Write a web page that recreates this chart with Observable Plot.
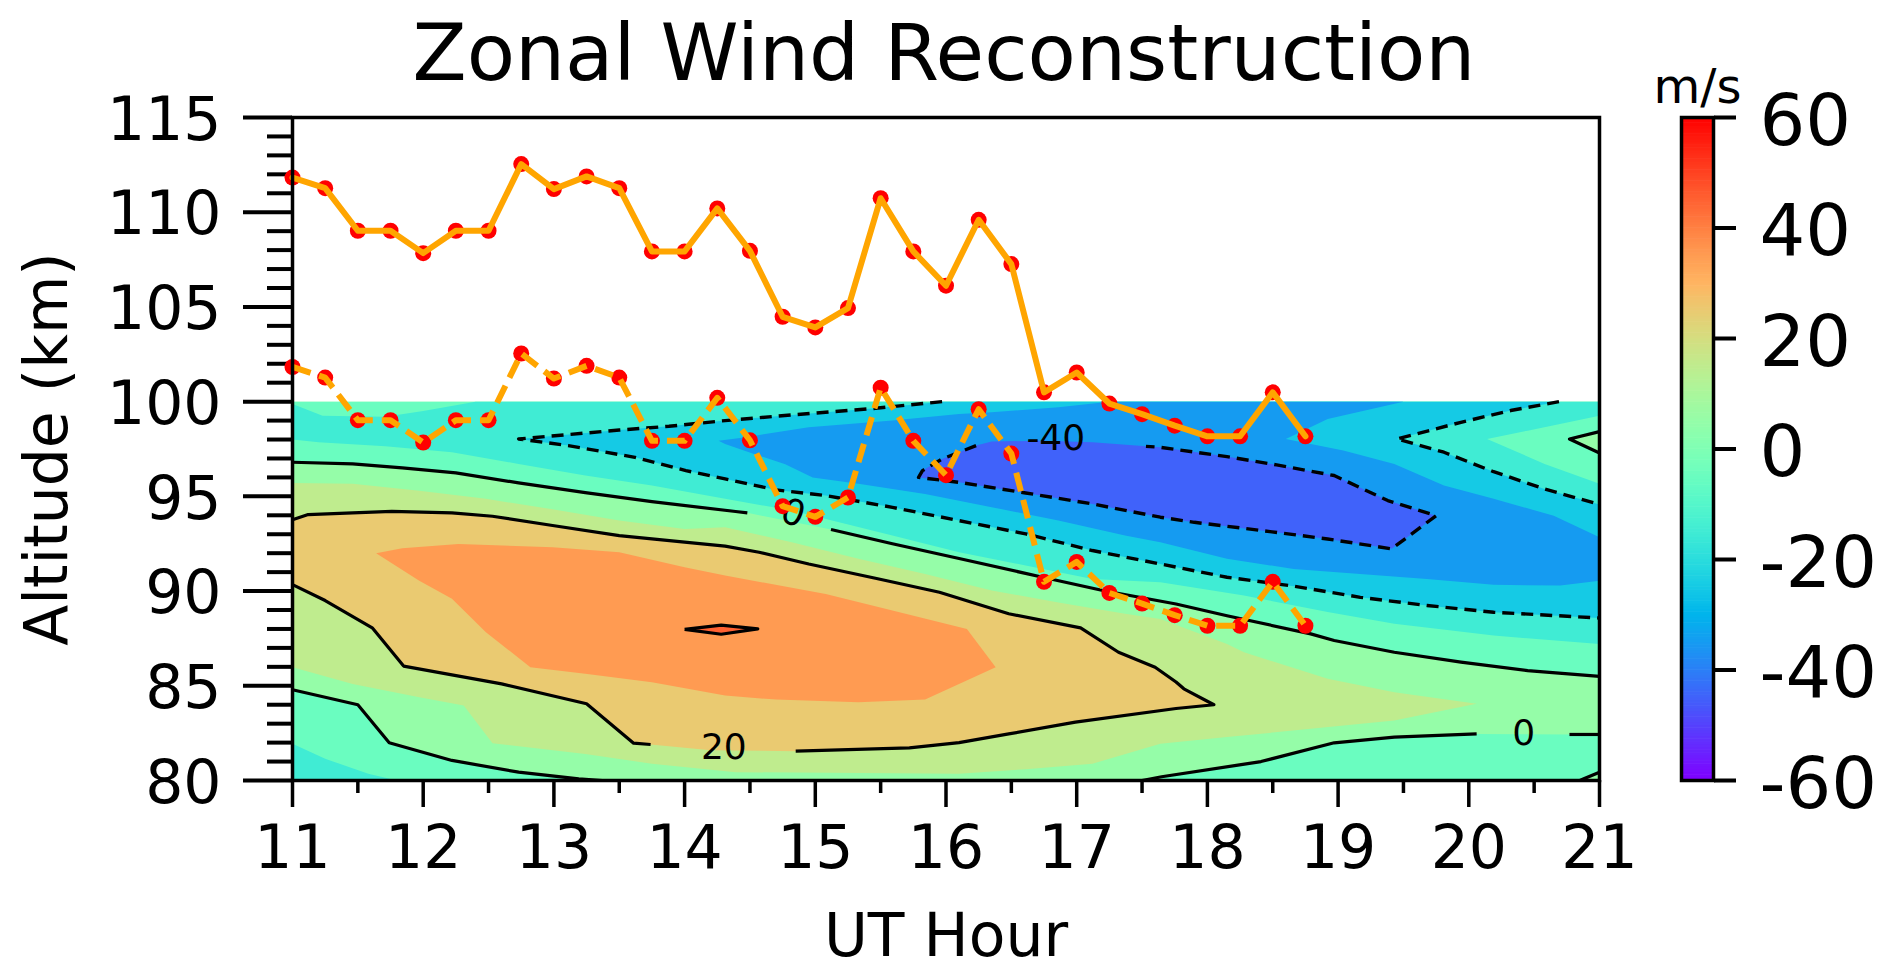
<!DOCTYPE html>
<html>
<head>
<meta charset="utf-8">
<script src="https://cdn.jsdelivr.net/npm/d3@7"></script>
<script src="https://cdn.jsdelivr.net/npm/@observablehq/plot@0.6"></script>
<style>
html,body{margin:0;padding:0;background:#fff;overflow:hidden}
#title{height:60px;width:1888px;text-align:center;font:79px/106px "DejaVu Sans";color:#000;white-space:nowrap}
#row{display:flex;align-items:flex-start}
svg{display:block}
</style>
</head>
<body>
<div id="title">Zonal Wind Reconstruction</div>
<div id="row"></div>
<script>
// Axis ticks
const xTicks = [11,12,13,14,15,16,17,18,19,20,21];
const xMinor = [11.5,12.5,13.5,14.5,15.5,16.5,17.5,18.5,19.5,20.5];
const yTicks = [80,85,90,95,100,105,110,115];
const yMinor = [81,82,83,84,86,87,88,89,91,92,93,94,96,97,98,99,101,102,103,104,106,107,108,109,111,112,113,114];
const cTicks = [-60,-40,-20,0,20,40,60];

// Hourly track samples
const hours = [11,11.25,11.5,11.75,12,12.25,12.5,12.75,13,13.25,13.5,13.75,14,14.25,14.5,14.75,15,15.25,15.5,15.75,16,16.25,16.5,16.75,17,17.25,17.5,17.75,18,18.25,18.5,18.75];
const upperKm = [111.83,111.27,109.02,109.02,107.84,109.02,109.02,112.54,111.22,111.89,111.27,107.93,107.93,110.2,107.96,104.48,103.92,104.94,110.74,107.93,106.12,109.6,107.26,100.49,101.54,99.9,99.34,98.73,98.17,98.17,100.49,98.17];
const lowerKm = [101.83,101.27,99.02,99.02,97.84,99.02,99.02,102.54,101.22,101.89,101.27,97.93,97.93,100.2,97.96,94.48,93.92,94.94,100.74,97.93,96.12,99.6,97.26,90.49,91.54,89.9,89.34,88.73,88.17,88.17,90.49,88.17];

// Contour lines [hour, km]
const zeroUpperA = [[11,96.8],[11.46,96.71],[11.84,96.5],[12.25,96.24],[12.73,95.71],[13.24,95.2],[13.75,94.72],[14.39,94.2],[14.48,94.13]];
const zeroUpperB = [[15.12,93.25],[15.59,92.5],[16.1,91.72],[16.74,90.73],[17.2,90.03],[17.76,89.32],[18.15,88.7],[18.79,87.74],[18.97,87.39],[19.43,86.77],[19.94,86.25],[20.45,85.8],[21,85.5]];
const twentyA = [[14.85,81.55],[15.72,81.72],[16.1,82],[16.48,82.46],[16.99,83.08],[17.76,83.8],[18.05,84],[17.82,84.84],[17.76,85.2],[17.6,85.98],[17.32,86.77],[17.03,88.06],[16.48,88.8],[15.95,89.94],[15.46,90.68],[14.95,91.43],[14.57,92.05],[14.31,92.37],[14,92.58],[13.5,92.93],[12.99,93.46],[12.53,93.95],[12.22,94.13],[11.76,94.21],[11.46,94.13],[11.12,94.04],[11,93.77]];
const twentyB = [[11,90.34],[11.25,89.5],[11.61,88.06],[11.85,86.04],[12.6,85.1],[13.25,84.05],[13.61,81.97],[13.74,81.9]];
const zeroLowerLeft = [[11,84.79],[11.5,84],[11.74,81.99],[12.22,81.06],[12.73,80.44],[13.19,80.09],[13.37,80]];
const zeroLowerRightA = [[17.5,80],[17.65,80.2],[18.41,81],[18.97,81.99],[19.43,82.29],[20.06,82.46]];
const zeroLowerRightB = [[20.77,82.43],[21,82.43]];
const zeroCorner = [[20.85,80],[20.88,80.09],[21,80.44]];
const zeroPocket = [[21,98.42],[20.77,98.03],[21,97.29]];
const minus20Main = [[15.97,100],[15.46,99.65],[14.82,99.3],[14.31,99],[13.88,98.7],[13.5,98.5],[12.73,98.03],[13.11,97.68],[13.62,97.06],[14.01,96.36],[14.31,95.92],[14.7,95.34],[15.08,95.04],[15.59,94.42],[16.1,93.72],[16.61,93.02],[17.12,92.14],[17.64,91.43],[18.15,90.73],[18.66,90.26],[19.17,89.67],[19.68,89.24],[20.19,88.88],[21,88.58]];
const minus20Right = [[20.69,100],[20.32,99.53],[19.94,98.91],[19.45,98.03],[19.81,97.33],[20.19,96.3],[20.58,95.39],[21,94.57]];
const minus40Line = [[16.23,97.68],[15.97,96.97],[15.82,96.36],[15.79,96],[16.1,95.74],[16.61,95.18],[17.12,94.6],[17.64,93.9],[17.9,93.63],[18.41,93.2],[18.92,92.75],[19.41,92.23],[19.75,93.98],[19.38,94.78],[18.97,96.1],[18.53,96.66],[18.15,97.1],[17.64,97.59],[17.53,97.64]];
const fortyDiamond = [[14,87.98],[14.28,88.2],[14.56,88],[14.28,87.72],[14,87.98]];

// Filled band edges [hour, km]
const bandBase = [[11,80],[21,80],[21,100],[11,100]];
const bandAbove10 = [[11,95.71],[11.46,95.66],[11.97,95.3],[12.48,94.87],[13,94.3],[13.5,93.72],[14,93.28],[14.31,93.37],[14.82,92.58],[15.33,91.7],[15.84,90.9],[16.35,90.03],[16.86,89.4],[17.37,88.8],[17.64,88.53],[18.15,87.2],[18.28,86.77],[18.92,85.37],[19.43,84.66],[20.06,84.05],[19.43,83.17],[18.79,82.73],[18.15,82.29],[17.64,81.94],[17.12,80.88],[16.61,80.6],[16.1,80.35],[14.39,80.44],[13.75,80.88],[13.24,81.4],[12.53,81.97],[12.31,83.96],[11.97,84.4],[11.46,85.1],[11,85.98]];
const bandAbove20 = [...twentyA,...twentyB,[14.2,81.6]];
const bandAbove30 = [[11.64,92],[11.84,92.26],[12.27,92.49],[12.99,92.31],[13.5,92.05],[14,91.26],[14.31,90.82],[15.08,89.85],[15.59,88.97],[16.16,88],[16.38,85.98],[15.84,84.27],[15.33,84.13],[14.7,84.27],[14.31,84.49],[13.75,85.19],[13.24,85.63],[12.82,85.98],[12.48,87.83],[12.22,89.59],[11.97,90.55]];
const bandBelow0Top = [...zeroUpperA,...zeroUpperB,...zeroPocket.slice().reverse(),[21,100],[11,100]];
const bandBelow0Left = [...zeroLowerLeft,[11,80]];
const bandBelow0Right = [...zeroLowerRightA,...zeroLowerRightB,...zeroCorner.slice().reverse()];
const bandBelow10Top = [[11,99.88],[11.23,99.26],[11.71,99.2],[12,99.5],[12.4,100],[21,100],[21,99.26],[20.45,98.47],[20.14,98.03],[20.58,96.71],[21,95.66],[21,87.21],[20.19,87.65],[19.43,88.27],[18.92,88.9],[18.28,89.76],[17.64,90.47],[17.12,90.64],[16.61,91.35],[16.1,92.05],[15.59,92.93],[14.82,94.25],[14.31,94.87],[13.75,95.57],[13.24,96.1],[12.73,96.71],[12.22,97.33],[11.71,97.64],[11.2,97.86],[11,98]];
const bandBelow10Corner = [[11,81.94],[11.25,81.15],[11.58,80.35],[11.8,80],[11,80]];
const bandBelow20 = [...minus20Main,[21,94.57],...minus20Right.slice().reverse()];
const bandBelow30 = [[14.26,97.94],[14.44,98.1],[14.95,98.65],[15.59,99],[16.1,99.35],[16.35,99.44],[16.86,99.7],[17.25,100],[19.5,100],[18.92,99.09],[18.6,98.03],[19.04,97.42],[19.43,96.71],[19.81,95.57],[20.19,94.87],[20.65,93.98],[21,92.84],[21,90.55],[20.7,90.29],[20.19,90.33],[19.68,90.64],[19.17,90.9],[18.66,91.17],[18.15,91.7],[17.64,92.58],[17.37,92.93],[16.86,93.72],[16.35,94.43],[15.84,95.13],[15.33,95.66],[14.98,96],[14.77,96.7],[14.57,97.15],[14.31,97.77]];
const bandBelow40 = [...minus40Line,[17.12,97.85],[16.74,97.94],[16.35,97.89]];

const bands = [
  [5,bandBase],[15,bandAbove10],[25,bandAbove20],[35,bandAbove30],[45,fortyDiamond],
  [-5,bandBelow0Top],[-5,bandBelow0Left],[-5,bandBelow0Right],
  [-15,bandBelow10Top],[-15,bandBelow10Corner],[-25,bandBelow20],[-35,bandBelow30],[-45,bandBelow40]
];
const solidContours = [zeroUpperA,zeroUpperB,twentyA,twentyB,zeroLowerLeft,zeroLowerRightA,zeroLowerRightB,zeroCorner,zeroPocket,fortyDiamond];
const dashedContours = [minus20Main,minus20Right,minus40Line];
const contourLabels = [
  {t:"0",h:14.83,a:94.1,r:20},{t:"-40",h:16.84,a:98.03,r:0},{t:"20",h:14.3,a:81.74,r:0},{t:"0",h:20.42,a:82.5,r:0}
];
const colorStops = d3.range(-60,60,0.5);
const unit = ["m/s"];

const rainbow = t => {
  const r = Math.min(1,Math.abs(2*t-0.5)), g = Math.sin(Math.PI*t), b = Math.cos(Math.PI*t/2);
  return `rgb(${Math.round(255*r)},${Math.round(255*g)},${Math.round(255*b)})`;
};
const colorScale = {type:"linear",domain:[-60,60],interpolate:()=>rainbow};
const style = {fontFamily:"DejaVu Sans",background:"transparent",overflow:"visible",color:"#000"};
const xy = {x:d=>d[0],y:d=>d[1]};
const plain = d => String(d);
const noText = () => null;

const main = Plot.plot({
  width:1640,height:918,marginTop:57,marginBottom:198,marginLeft:292,marginRight:41,
  style,
  x:{domain:[11,21],label:null},
  y:{domain:[80,115],label:null},
  color:colorScale,
  marks:[
    ...bands.map(([v,pts])=>Plot.line(pts,{...xy,fill:()=>v,stroke:"none"})),
    ...solidContours.map(c=>Plot.line(c,{...xy,stroke:"#000",strokeWidth:3.2,strokeLinecap:"butt"})),
    ...dashedContours.map(c=>Plot.line(c,{...xy,stroke:"#000",strokeWidth:3.4,strokeDasharray:"12,7",strokeLinecap:"butt"})),
    Plot.text(contourLabels,{x:"h",y:"a",text:"t",rotate:"r",fontSize:36,fill:"#000"}),
    Plot.axisX(xTicks,{tickSize:27,strokeWidth:3.5,tickFormat:noText,label:null}),
    Plot.axisX(xMinor,{tickSize:13,strokeWidth:3.5,tickFormat:noText,label:null}),
    Plot.axisX(xTicks,{tickSize:0,tickPadding:45,fontSize:60,tickFormat:plain,label:"UT Hour",labelAnchor:"center",labelArrow:"none",labelOffset:175}),
    Plot.axisY(yTicks,{tickSize:49,strokeWidth:4,tickFormat:noText,label:null}),
    Plot.axisY(yMinor,{tickSize:25,strokeWidth:4,tickFormat:noText,label:null}),
    Plot.axisY(yTicks,{tickSize:0,tickPadding:71,dy:3,fontSize:60,tickFormat:plain,label:"Altitude (km)",labelAnchor:"center",labelArrow:"none",labelOffset:268}),
    Plot.dot(hours,{x:d=>d,y:(d,i)=>upperKm[i],r:8,fill:"#ff0000"}),
    Plot.dot(hours,{x:d=>d,y:(d,i)=>lowerKm[i],r:8,fill:"#ff0000"}),
    Plot.line(hours,{x:d=>d,y:(d,i)=>upperKm[i],stroke:"#ffa500",strokeWidth:6}),
    Plot.line(hours,{x:d=>d,y:(d,i)=>lowerKm[i],stroke:"#ffa500",strokeWidth:6,strokeDasharray:"19,9",strokeLinecap:"butt"}),
    Plot.frame({stroke:"#000",strokeWidth:3.5})
  ]
});

const bar = Plot.plot({
  width:252,height:918,marginTop:57,marginBottom:198,marginLeft:41,marginRight:179,
  style,
  x:{domain:[0,1],axis:null},
  y:{domain:[-60,60],label:null},
  color:colorScale,
  marks:[
    Plot.rectY(colorStops,{x1:0,x2:1,y1:d=>d,y2:d=>d+0.5,fill:d=>d+0.25,inset:-0.3}),
    Plot.frame({stroke:"#000",strokeWidth:3.5}),
    Plot.axisY(cTicks,{anchor:"right",tickSize:22,strokeWidth:4,tickFormat:noText,label:null}),
    Plot.axisY(cTicks,{anchor:"right",tickSize:0,tickPadding:46,dy:4,fontSize:72,tickFormat:plain,label:null}),
    Plot.text(unit,{frameAnchor:"top",dy:-49,dx:0,fontSize:48,fill:"#000"})
  ]
});
document.getElementById("row").append(main,bar);
</script>
</body>
</html>
